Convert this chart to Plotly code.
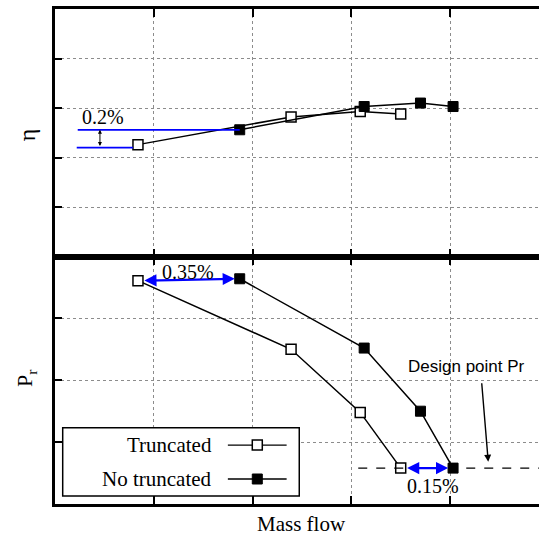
import plotly.graph_objects as go

# Operating-line samples (normalised units on both axes)
mass_flow_trunc = [0.84, 2.39, 3.09, 3.50]
mass_flow_full = [1.87, 3.13, 3.70, 4.03]
eta_trunc = [2.26, 2.82, 2.93, 2.88]
eta_full = [2.56, 3.03, 3.10, 3.03]
pr_trunc = [3.61, 2.50, 1.48, 0.58]
pr_full = [3.64, 2.52, 1.50, 0.58]

series_names = ["Truncated", "No truncated"]
eta_gap_label = "0.2%"
flow_gap_top_label = "0.35%"
flow_gap_design_label = "0.15%"
design_label = "Design point Pr"

SERIF = "Liberation Serif, Times New Roman, serif"
SANS = "Liberation Sans, Arial, sans-serif"

open_marker = dict(symbol="square", size=10, color="white", line=dict(color="black", width=1.5))
full_marker = dict(symbol="square", size=10, color="black", line=dict(color="black", width=1))
line_style = dict(color="black", width=1.5)

fig = go.Figure()

# Efficiency panel
fig.add_trace(go.Scatter(x=mass_flow_trunc, y=eta_trunc, mode="lines+markers",
                         line=line_style, marker=open_marker, xaxis="x", yaxis="y",
                         showlegend=False))
fig.add_trace(go.Scatter(x=mass_flow_full, y=eta_full, mode="lines+markers",
                         line=line_style, marker=full_marker, xaxis="x", yaxis="y",
                         showlegend=False))

# Pressure-ratio panel
fig.add_trace(go.Scatter(x=mass_flow_trunc, y=pr_trunc, mode="lines+markers",
                         line=line_style, marker=open_marker, xaxis="x2", yaxis="y2",
                         showlegend=False))
fig.add_trace(go.Scatter(x=mass_flow_full, y=pr_full, mode="lines+markers",
                         line=line_style, marker=full_marker, xaxis="x2", yaxis="y2",
                         showlegend=False))

# Hand-made legend keys (text sits to the left of the sample)
legend_rows = [0.953, 0.404]
for row_y, mk in zip(legend_rows, [open_marker, full_marker]):
    fig.add_trace(go.Scatter(x=[1.75, 2.345], y=[row_y, row_y], mode="lines",
                             line=dict(color="black", width=1.3), xaxis="x2", yaxis="y2",
                             showlegend=False, hoverinfo="skip"))
    fig.add_trace(go.Scatter(x=[2.048], y=[row_y], mode="markers", marker=mk,
                             xaxis="x2", yaxis="y2", showlegend=False, hoverinfo="skip"))

X_MAX = 4.9
axis_common = dict(showline=True, linecolor="black", linewidth=3, ticks="inside",
                   tickcolor="black", tickwidth=2, ticklen=8, showticklabels=False,
                   showgrid=True, gridcolor="#8c8c8c", gridwidth=1, griddash="dot",
                   zeroline=False)

shapes = [
    # Design pressure-ratio level
    dict(type="line", xref="x2", yref="y2", x0=3.07, x1=X_MAX, y0=pr_full[3], y1=pr_full[3],
         line=dict(color="black", width=1.2, dash="dash")),
    # Efficiency offset guides
    dict(type="line", xref="x", yref="y", x0=0.23, x1=mass_flow_full[0],
         y0=eta_full[0], y1=eta_full[0], line=dict(color="#0000ff", width=1.8)),
    dict(type="line", xref="x", yref="y", x0=0.22, x1=mass_flow_trunc[0] - 0.05,
         y0=2.20, y1=2.20, line=dict(color="#0000ff", width=1.8)),
    # Legend frame
    dict(type="rect", xref="x2", yref="y2", x0=0.078, x1=2.473, y0=0.129, y1=1.233,
         line=dict(color="black", width=1.5), fillcolor="white", layer="between"),
]

annotations = [
    dict(text="η", xref="paper", yref="paper", x=-0.058, y=0.747, showarrow=False,
         xanchor="center", yanchor="middle", textangle=-90,
         font=dict(family=SERIF, size=24, color="black")),
    dict(text="P<sub>r</sub>", xref="paper", yref="paper", x=-0.06, y=0.2545, showarrow=False,
         xanchor="center", yanchor="middle", textangle=-90,
         font=dict(family=SERIF, size=22, color="black")),
    dict(text="Mass flow", xref="paper", yref="paper", x=0.5097, y=-0.04, showarrow=False,
         xanchor="center", yanchor="middle",
         font=dict(family=SERIF, size=21, color="black")),
    # Efficiency gap
    dict(x=0.455, y=eta_full[0], ax=0.455, ay=2.20, xref="x", yref="y", axref="x", ayref="y",
         text="", showarrow=True, arrowhead=2, arrowside="end+start", arrowsize=0.8,
         arrowwidth=1, arrowcolor="black", standoff=0, startstandoff=0),
    dict(text=eta_gap_label, x=0.486, y=2.82, xref="x", yref="y", showarrow=False,
         xanchor="center", yanchor="middle",
         font=dict(family=SERIF, size=20, color="black")),
    # Mass-flow gap at the top of the characteristic
    dict(x=mass_flow_full[0] - 0.05, y=pr_full[0], ax=mass_flow_trunc[0] + 0.05, ay=pr_trunc[0],
         xref="x2", yref="y2", axref="x2", ayref="y2", text="", showarrow=True,
         arrowhead=2, arrowside="end+start", arrowsize=1.1, arrowwidth=2.2,
         arrowcolor="#0000ff", standoff=0, startstandoff=0),
    dict(text=flow_gap_top_label, x=1.346, y=3.753, xref="x2", yref="y2", showarrow=False,
         xanchor="center", yanchor="middle",
         font=dict(family=SERIF, size=20, color="black")),
    # Mass-flow gap at design pressure ratio
    dict(x=mass_flow_full[3] - 0.05, y=pr_full[3], ax=mass_flow_trunc[3] + 0.05, ay=pr_trunc[3],
         xref="x2", yref="y2", axref="x2", ayref="y2", text="", showarrow=True,
         arrowhead=2, arrowside="end+start", arrowsize=1.1, arrowwidth=2.2,
         arrowcolor="#0000ff", standoff=0, startstandoff=0),
    dict(text=flow_gap_design_label, x=3.823, y=0.291, xref="x2", yref="y2", showarrow=False,
         xanchor="center", yanchor="middle",
         font=dict(family=SERIF, size=20, color="black")),
    # Design point callout
    dict(text=design_label, x=4.167, y=2.218, xref="x2", yref="y2", showarrow=False,
         xanchor="center", yanchor="middle",
         font=dict(family=SANS, size=17, color="black")),
    dict(x=4.386, y=0.683, ax=4.319, ay=1.976, xref="x2", yref="y2", axref="x2", ayref="y2",
         text="", showarrow=True, arrowhead=2, arrowsize=1, arrowwidth=1.4,
         arrowcolor="black", standoff=0),
    # Legend labels
    dict(text=series_names[0], x=1.609, y=legend_rows[0], xref="x2", yref="y2",
         xanchor="right", yanchor="middle",
         showarrow=False, font=dict(family=SERIF, size=21, color="black")),
    dict(text=series_names[1], x=1.609, y=legend_rows[1], xref="x2", yref="y2",
         xanchor="right", yanchor="middle",
         showarrow=False, font=dict(family=SERIF, size=21, color="black")),
]

fig.update_layout(
    width=539, height=536,
    margin=dict(l=55, r=0, t=9, b=32),
    paper_bgcolor="white", plot_bgcolor="white",
    showlegend=False,
    xaxis=dict(axis_common, domain=[0, 1], range=[0, X_MAX], tickvals=[1, 2, 3, 4],
               anchor="y", mirror="ticks"),
    yaxis=dict(axis_common, domain=[0.5, 1], range=[0, 5], tickvals=[1, 2, 3, 4],
               anchor="x", mirror=False, ticklen=7),
    xaxis2=dict(axis_common, domain=[0, 1], range=[0, X_MAX], tickvals=[1, 2, 3, 4],
                anchor="y2", mirror="ticks", matches="x"),
    yaxis2=dict(axis_common, domain=[0, 0.5], range=[0, 4], tickvals=[1, 2, 3],
                anchor="x2", mirror=False, ticklen=7),
    shapes=shapes,
    annotations=annotations,
)

fig.write_html("out.html")
